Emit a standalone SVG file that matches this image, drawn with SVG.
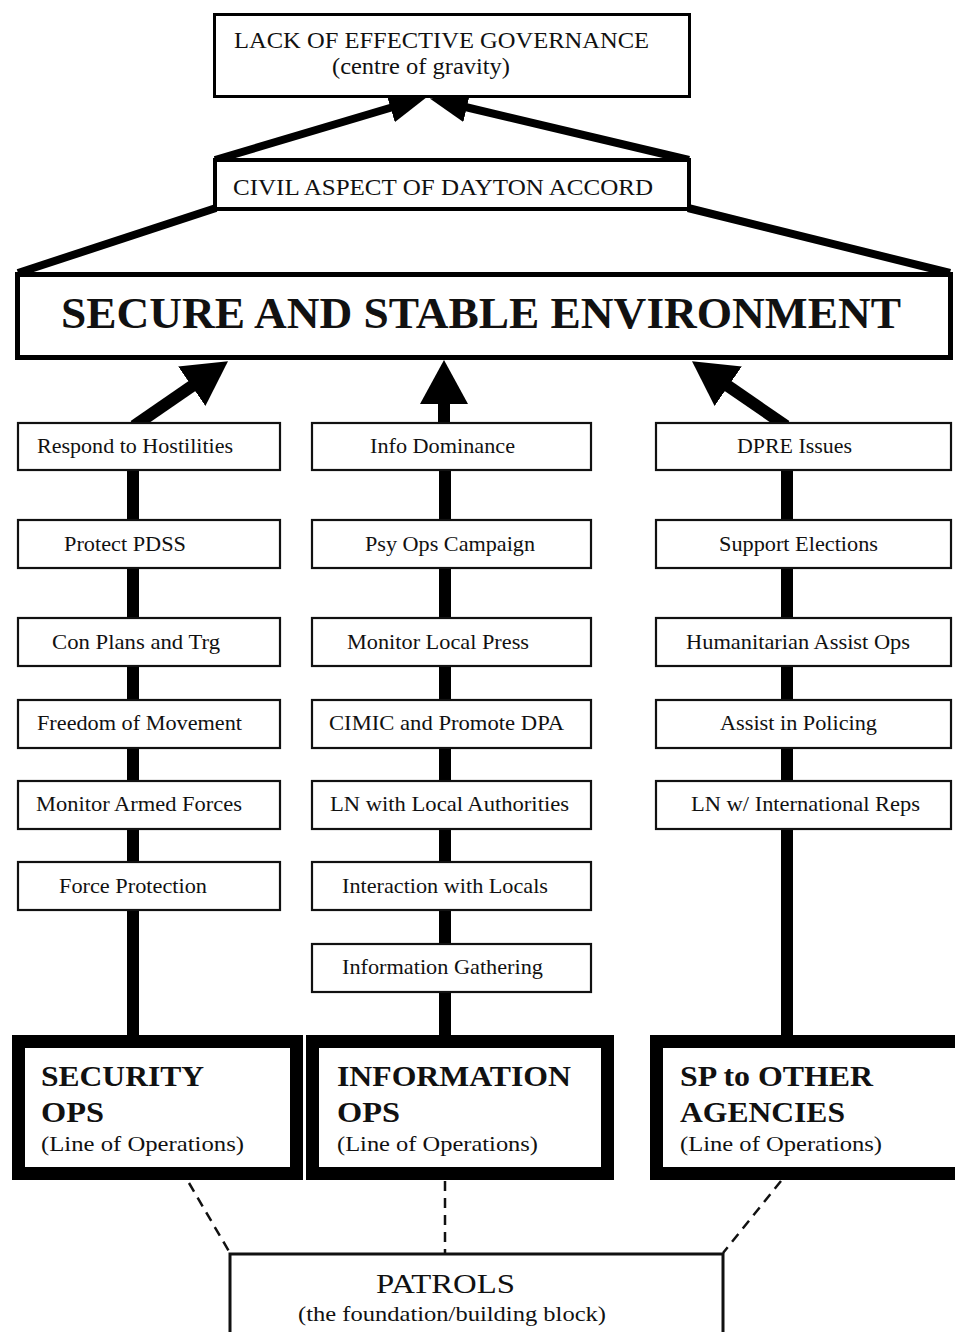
<svg xmlns="http://www.w3.org/2000/svg" width="955" height="1332" viewBox="0 0 955 1332">
<style>
  text { font-family: "Liberation Serif", "Times New Roman", serif; fill: #111; }
  .t { font-size: 22px; }
  .big { font-size: 44px; font-weight: bold; }
  .hd { font-size: 23px; }
  .bh { font-size: 30px; font-weight: bold; }
  .box { fill: #fff; stroke: #111; stroke-width: 2.2; }
  .lop { fill: #fff; stroke: #000; stroke-width: 13; }
  .thick { stroke: #000; stroke-width: 12; fill: none; }
  .top { stroke: #000; stroke-width: 8; fill: none; }
  .dash { stroke: #111; stroke-width: 2.5; stroke-dasharray: 10 7; fill: none; }
</style>
<defs>
  <marker id="bigHead" markerUnits="userSpaceOnUse" markerWidth="46" markerHeight="48" refX="10" refY="24" orient="auto">
    <path d="M0,0 L44,24 L0,48 z" fill="#000"/>
  </marker>
  <marker id="topHead" markerUnits="userSpaceOnUse" markerWidth="40" markerHeight="30" refX="8" refY="15" orient="auto">
    <path d="M0,0 L38,15 L0,30 z" fill="#000"/>
  </marker>
</defs>

<g id="connectors">
  <!-- civil to top -->
  <line class="top" x1="215" y1="160" x2="398.2" y2="105.5" marker-end="url(#topHead)"/>
  <line class="top" x1="689" y1="160" x2="459" y2="105.5" marker-end="url(#topHead)"/>
  <!-- SSE to civil -->
  <line class="top" x1="18" y1="273" x2="216" y2="208"/>
  <line class="top" x1="950" y1="273" x2="688" y2="208"/>
  <!-- columns to SSE -->
  <line class="thick" x1="134" y1="426" x2="200" y2="380.5" marker-end="url(#bigHead)"/>
  <line class="thick" x1="444" y1="424" x2="444" y2="394" marker-end="url(#bigHead)"/>
  <line class="thick" x1="786" y1="426" x2="720" y2="380.5" marker-end="url(#bigHead)"/>
  <!-- vertical column spines -->
  <line class="thick" x1="133" y1="470" x2="133" y2="1040"/>
  <line class="thick" x1="445" y1="470" x2="445" y2="1040"/>
  <line class="thick" x1="787" y1="470" x2="787" y2="1040"/>
  <!-- dashed to patrols -->
  <line class="dash" x1="189" y1="1183" x2="230" y2="1253"/>
  <line class="dash" x1="445" y1="1181" x2="445" y2="1253"/>
  <line class="dash" x1="781" y1="1181" x2="723" y2="1253"/>
</g>

<g id="governance">
  <rect x="214.5" y="14.5" width="475" height="82" fill="#fff" stroke="#000" stroke-width="3"/>
  <text class="hd" x="234" y="48" textLength="415" lengthAdjust="spacingAndGlyphs">LACK OF EFFECTIVE GOVERNANCE</text>
  <text class="hd" x="332" y="74" textLength="178" lengthAdjust="spacingAndGlyphs">(centre of gravity)</text>
</g>

<g id="civil">
  <rect x="215" y="160" width="474" height="49" fill="#fff" stroke="#000" stroke-width="4"/>
  <text class="hd" x="233" y="195" textLength="420" lengthAdjust="spacingAndGlyphs">CIVIL ASPECT OF DAYTON ACCORD</text>
</g>

<g id="sse">
  <rect x="17.5" y="274.5" width="933" height="83" fill="#fff" stroke="#000" stroke-width="5"/>
  <text class="big" x="61" y="328" textLength="840" lengthAdjust="spacingAndGlyphs">SECURE AND STABLE ENVIRONMENT</text>
</g>

<!-- Left column -->
<g id="n-respond"><rect class="box" x="18" y="423" width="262" height="47"/><text class="t" x="37" y="453" textLength="196" lengthAdjust="spacingAndGlyphs">Respond to Hostilities</text></g>
<g id="n-pdss"><rect class="box" x="18" y="520" width="262" height="48"/><text class="t" x="64" y="551" textLength="122" lengthAdjust="spacingAndGlyphs">Protect PDSS</text></g>
<g id="n-con"><rect class="box" x="18" y="618" width="262" height="48"/><text class="t" x="52" y="649" textLength="168" lengthAdjust="spacingAndGlyphs">Con Plans and Trg</text></g>
<g id="n-freedom"><rect class="box" x="18" y="700" width="262" height="48"/><text class="t" x="37" y="730" textLength="205" lengthAdjust="spacingAndGlyphs">Freedom of Movement</text></g>
<g id="n-monarmed"><rect class="box" x="18" y="781" width="262" height="48"/><text class="t" x="36" y="811" textLength="206" lengthAdjust="spacingAndGlyphs">Monitor Armed Forces</text></g>
<g id="n-force"><rect class="box" x="18" y="862" width="262" height="48"/><text class="t" x="59" y="893" textLength="148" lengthAdjust="spacingAndGlyphs">Force Protection</text></g>

<!-- Middle column -->
<g id="n-info"><rect class="box" x="312" y="423" width="279" height="47"/><text class="t" x="370" y="453" textLength="145" lengthAdjust="spacingAndGlyphs">Info Dominance</text></g>
<g id="n-psy"><rect class="box" x="312" y="520" width="279" height="48"/><text class="t" x="365" y="551" textLength="170" lengthAdjust="spacingAndGlyphs">Psy Ops Campaign</text></g>
<g id="n-press"><rect class="box" x="312" y="618" width="279" height="48"/><text class="t" x="347" y="649" textLength="182" lengthAdjust="spacingAndGlyphs">Monitor Local Press</text></g>
<g id="n-cimic"><rect class="box" x="312" y="700" width="279" height="48"/><text class="t" x="329" y="730" textLength="235" lengthAdjust="spacingAndGlyphs">CIMIC and Promote DPA</text></g>
<g id="n-lnlocal"><rect class="box" x="312" y="781" width="279" height="48"/><text class="t" x="330" y="811" textLength="239" lengthAdjust="spacingAndGlyphs">LN with Local Authorities</text></g>
<g id="n-interact"><rect class="box" x="312" y="862" width="279" height="48"/><text class="t" x="342" y="893" textLength="206" lengthAdjust="spacingAndGlyphs">Interaction with Locals</text></g>
<g id="n-gather"><rect class="box" x="312" y="944" width="279" height="48"/><text class="t" x="342" y="974" textLength="201" lengthAdjust="spacingAndGlyphs">Information Gathering</text></g>

<!-- Right column -->
<g id="n-dpre"><rect class="box" x="656" y="423" width="295" height="47"/><text class="t" x="737" y="453" textLength="115" lengthAdjust="spacingAndGlyphs">DPRE Issues</text></g>
<g id="n-elect"><rect class="box" x="656" y="520" width="295" height="48"/><text class="t" x="719" y="551" textLength="159" lengthAdjust="spacingAndGlyphs">Support Elections</text></g>
<g id="n-human"><rect class="box" x="656" y="618" width="295" height="48"/><text class="t" x="686" y="649" textLength="224" lengthAdjust="spacingAndGlyphs">Humanitarian Assist Ops</text></g>
<g id="n-police"><rect class="box" x="656" y="700" width="295" height="48"/><text class="t" x="720" y="730" textLength="157" lengthAdjust="spacingAndGlyphs">Assist in Policing</text></g>
<g id="n-intl"><rect class="box" x="656" y="781" width="295" height="48"/><text class="t" x="691" y="811" textLength="229" lengthAdjust="spacingAndGlyphs">LN w/ International Reps</text></g>

<!-- Lines of operations -->
<g id="secops">
  <rect class="lop" x="18.5" y="1041.5" width="278" height="132"/>
  <text class="bh" x="41" y="1086" textLength="163" lengthAdjust="spacingAndGlyphs">SECURITY</text>
  <text class="bh" x="41" y="1122" textLength="63" lengthAdjust="spacingAndGlyphs">OPS</text>
  <text class="t" x="41" y="1151" textLength="203" lengthAdjust="spacingAndGlyphs">(Line of Operations)</text>
</g>
<g id="infoops">
  <rect class="lop" x="312.5" y="1041.5" width="295" height="132"/>
  <text class="bh" x="337" y="1086" textLength="234" lengthAdjust="spacingAndGlyphs">INFORMATION</text>
  <text class="bh" x="337" y="1122" textLength="63" lengthAdjust="spacingAndGlyphs">OPS</text>
  <text class="t" x="337" y="1151" textLength="201" lengthAdjust="spacingAndGlyphs">(Line of Operations)</text>
</g>
<g id="spops">
  <rect class="lop" x="656.5" y="1041.5" width="320" height="132"/>
  <text class="bh" x="680" y="1086" textLength="193" lengthAdjust="spacingAndGlyphs">SP to OTHER</text>
  <text class="bh" x="680" y="1122" textLength="165" lengthAdjust="spacingAndGlyphs">AGENCIES</text>
  <text class="t" x="680" y="1151" textLength="202" lengthAdjust="spacingAndGlyphs">(Line of Operations)</text>
</g>

<g id="patrols">
  <rect x="230" y="1254" width="493" height="100" fill="#fff" stroke="#111" stroke-width="3"/>
  <text x="376" y="1293" font-size="28" textLength="139" lengthAdjust="spacingAndGlyphs">PATROLS</text>
  <text class="t" x="298" y="1321" textLength="308" lengthAdjust="spacingAndGlyphs">(the foundation/building block)</text>
</g>
</svg>
